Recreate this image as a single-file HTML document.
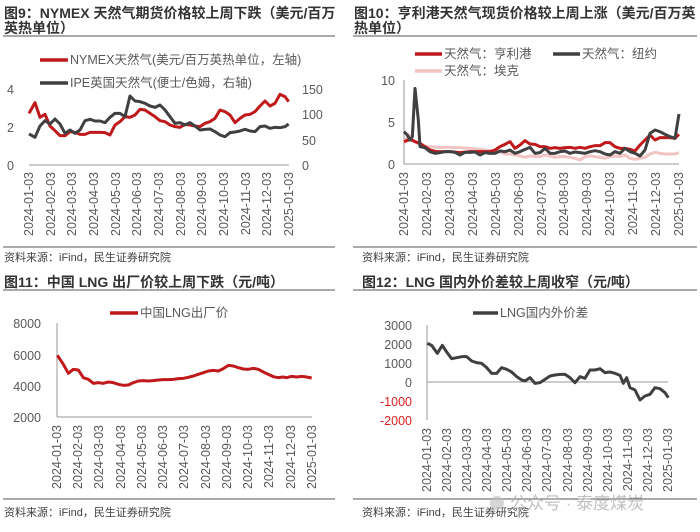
<!DOCTYPE html>
<html><head><meta charset="utf-8"><style>
html,body{margin:0;padding:0;background:#fff}
svg{display:block}
text{font-family:"Liberation Sans","Noto Sans CJK SC",sans-serif;fill:#595959}
.t{font-size:14px;font-weight:bold;fill:#333}
.lg{font-size:12.5px;fill:#595959}
.tk{font-size:12.5px}
.d{font-size:12.5px}
.s{font-size:11px;fill:#404040}
</style></head><body>
<svg width="700" height="532" viewBox="0 0 700 532" xmlns="http://www.w3.org/2000/svg">
<!-- Panel 1 -->
<text class="t" x="4" y="18">图9：NYMEX 天然气期货价格较上周下跌（美元/百万</text>
<text class="t" x="4" y="33">英热单位）</text>
<line x1="3" y1="36" x2="335" y2="36" stroke="#555" stroke-width="1"/>
<line x1="40" y1="60" x2="68" y2="60" stroke="#c0191b" stroke-width="3.5"/>
<text class="lg" x="70" y="64">NYMEX天然气(美元/百万英热单位，左轴)</text>
<line x1="40" y1="83" x2="68" y2="83" stroke="#404040" stroke-width="3.5"/>
<text class="lg" x="70" y="87">IPE英国天然气(便士/色姆，右轴)</text>
<text class="tk" x="7" y="94">4</text><text class="tk" x="7" y="132">2</text><text class="tk" x="7" y="170">0</text>
<text class="tk" x="302" y="94">150</text><text class="tk" x="302" y="119">100</text><text class="tk" x="302" y="145">50</text><text class="tk" x="302" y="170">0</text>
<line x1="29" y1="165" x2="289" y2="165" stroke="#999"/>
<g transform="scale(0.33333)" fill="none" stroke-linejoin="round">
<polyline stroke="#c0191b" stroke-width="9" points="87,340 105,308 120,352 135,343 150,378 165,392 180,407 195,407 210,395 225,397 240,403 255,403 270,397 300,397 315,398 330,405 345,375 360,365 375,350 390,352 405,345 420,328 435,330 450,340 465,350 480,362 495,365 510,375 525,380 540,382 555,373 570,375 585,378 600,380 615,370 630,365 645,355 660,330 675,335 690,345 705,368 720,355 735,345 750,343 765,335 780,318 795,303 810,318 825,310 840,283 855,290 866,305"/>
<polyline stroke="#404040" stroke-width="9" points="87,402 105,412 120,378 135,362 150,372 165,357 180,372 195,400 210,390 225,400 240,390 255,362 270,358 285,363 300,363 315,368 330,352 345,340 360,340 375,350 390,288 405,303 420,305 435,310 450,318 465,322 480,315 495,330 510,350 525,370 540,368 555,375 570,368 585,378 600,390 615,388 630,387 645,395 660,405 675,410 690,398 705,396 720,393 735,388 750,393 765,395 780,380 795,378 810,385 825,382 840,383 855,380 866,372"/>
</g>
<g class="d">
<text transform="translate(33,172) rotate(-90)" text-anchor="end">2024-01-03</text>
<text transform="translate(55,172) rotate(-90)" text-anchor="end">2024-02-03</text>
<text transform="translate(76,172) rotate(-90)" text-anchor="end">2024-03-03</text>
<text transform="translate(98,172) rotate(-90)" text-anchor="end">2024-04-03</text>
<text transform="translate(120,172) rotate(-90)" text-anchor="end">2024-05-03</text>
<text transform="translate(141,172) rotate(-90)" text-anchor="end">2024-06-03</text>
<text transform="translate(163,172) rotate(-90)" text-anchor="end">2024-07-03</text>
<text transform="translate(185,172) rotate(-90)" text-anchor="end">2024-08-03</text>
<text transform="translate(206,172) rotate(-90)" text-anchor="end">2024-09-03</text>
<text transform="translate(228,172) rotate(-90)" text-anchor="end">2024-10-03</text>
<text transform="translate(250,172) rotate(-90)" text-anchor="end">2024-11-03</text>
<text transform="translate(271,172) rotate(-90)" text-anchor="end">2024-12-03</text>
<text transform="translate(293,172) rotate(-90)" text-anchor="end">2025-01-03</text>
</g>
<line x1="3" y1="247" x2="335" y2="247" stroke="#555"/>
<text class="s" x="4" y="261">资料来源：iFind，民生证券研究院</text>

<!-- Panel 2 -->
<text class="t" x="354" y="18">图10：亨利港天然气现货价格较上周上涨（美元/百万英</text>
<text class="t" x="354" y="33">热单位）</text>
<line x1="353" y1="36" x2="697" y2="36" stroke="#555"/>
<line x1="415" y1="54" x2="442" y2="54" stroke="#c0191b" stroke-width="3.5"/>
<text class="lg" x="444" y="58">天然气：亨利港</text>
<line x1="553" y1="54" x2="580" y2="54" stroke="#404040" stroke-width="3.5"/>
<text class="lg" x="582" y="58">天然气：纽约</text>
<line x1="415" y1="71" x2="442" y2="71" stroke="#f2c4c4" stroke-width="3.5"/>
<text class="lg" x="444" y="75">天然气：埃克</text>
<text class="tk" x="395" y="85" text-anchor="end">10</text>
<text class="tk" x="395" y="127" text-anchor="end">5</text>
<text class="tk" x="395" y="169" text-anchor="end">0</text>
<line x1="404" y1="80" x2="404" y2="164" stroke="#999"/>
<line x1="404" y1="164" x2="679" y2="164" stroke="#999"/>
<g transform="translate(350,0) scale(0.33333)" fill="none" stroke-linejoin="round">
<polyline stroke="#f2c4c4" stroke-width="9" points="162,430 175,405 185,415 195,425 210,435 225,440 240,440 270,442 300,442 330,443 360,445 390,448 420,452 435,455 450,455 465,462 480,462 495,465 510,468 525,472 540,468 555,470 570,470 585,465 600,468 615,472 630,470 645,470 660,472 675,475 690,480 705,470 720,468 735,470 750,472 765,475 780,470 795,468 810,470 825,465 840,475 855,478 870,475 885,472 900,462 915,457 930,460 945,462 960,462 975,462 987,458"/>
<polyline stroke="#c0191b" stroke-width="9" points="162,425 180,418 195,425 210,430 225,440 240,450 260,455 300,455 330,458 360,455 390,455 420,455 435,450 450,440 465,433 480,425 495,445 510,435 525,422 540,432 555,433 570,440 585,440 600,445 615,443 630,445 645,443 660,442 675,445 690,442 705,445 720,440 735,437 750,437 765,428 780,428 795,440 810,445 825,445 840,448 855,453 870,435 885,420 900,405 915,420 930,413 945,413 960,413 975,415 987,403"/>
<polyline stroke="#404040" stroke-width="9" points="162,395 172,405 180,420 187,410 195,265 205,360 210,440 225,443 240,455 255,460 270,458 285,455 300,455 315,457 330,465 345,457 360,457 375,456 390,465 405,458 420,460 435,460 450,453 465,455 480,450 495,460 510,455 525,448 540,442 555,460 570,458 585,445 600,460 615,460 630,455 645,453 660,460 675,456 690,458 705,460 720,455 735,452 750,455 765,462 780,465 795,455 810,460 825,445 840,455 855,460 870,468 885,450 900,400 915,390 930,395 945,403 960,410 975,415 987,342"/>
</g>
<g class="d">
<text transform="translate(408,172) rotate(-90)" text-anchor="end">2024-01-03</text>
<text transform="translate(431,172) rotate(-90)" text-anchor="end">2024-02-03</text>
<text transform="translate(454,172) rotate(-90)" text-anchor="end">2024-03-03</text>
<text transform="translate(477,172) rotate(-90)" text-anchor="end">2024-04-03</text>
<text transform="translate(500,172) rotate(-90)" text-anchor="end">2024-05-03</text>
<text transform="translate(523,172) rotate(-90)" text-anchor="end">2024-06-03</text>
<text transform="translate(546,172) rotate(-90)" text-anchor="end">2024-07-03</text>
<text transform="translate(568,172) rotate(-90)" text-anchor="end">2024-08-03</text>
<text transform="translate(591,172) rotate(-90)" text-anchor="end">2024-09-03</text>
<text transform="translate(614,172) rotate(-90)" text-anchor="end">2024-10-03</text>
<text transform="translate(637,172) rotate(-90)" text-anchor="end">2024-11-03</text>
<text transform="translate(660,172) rotate(-90)" text-anchor="end">2024-12-03</text>
<text transform="translate(683,172) rotate(-90)" text-anchor="end">2025-01-03</text>
</g>
<line x1="353" y1="247" x2="697" y2="247" stroke="#555"/>
<text class="s" x="362" y="261">资料来源：iFind，民生证券研究院</text>

<!-- Panel 3 -->
<text class="t" x="4" y="287">图11：中国 LNG 出厂价较上周下跌（元/吨）</text>
<line x1="3" y1="290" x2="335" y2="290" stroke="#555"/>
<line x1="110" y1="313" x2="138" y2="313" stroke="#c0191b" stroke-width="3.5"/>
<text class="lg" x="140" y="317">中国LNG出厂价</text>
<text class="tk" x="41" y="328" text-anchor="end">8000</text>
<text class="tk" x="41" y="360" text-anchor="end">6000</text>
<text class="tk" x="41" y="391" text-anchor="end">4000</text>
<text class="tk" x="41" y="422" text-anchor="end">2000</text>
<line x1="57" y1="323" x2="57" y2="417" stroke="#999"/>
<line x1="57" y1="417" x2="312" y2="417" stroke="#999"/>
<g transform="translate(0,266) scale(0.33333)" fill="none" stroke-linejoin="round">
<polyline stroke="#c0191b" stroke-width="9" points="172,268 190,295 205,322 220,310 235,312 250,335 265,340 280,352 295,350 310,352 325,348 340,350 355,355 370,358 385,357 400,350 415,345 430,344 445,345 460,344 475,342 490,341 505,341 520,340 535,338 550,337 565,334 580,330 595,325 610,320 625,315 640,313 655,315 670,308 685,298 700,300 715,305 730,309 745,310 760,307 775,310 790,318 805,325 820,332 835,335 850,333 860,335 875,331 890,333 905,331 920,333 935,336"/>
</g>
<g class="d">
<text transform="translate(61,425) rotate(-90)" text-anchor="end">2024-01-03</text>
<text transform="translate(82,425) rotate(-90)" text-anchor="end">2024-02-03</text>
<text transform="translate(103,425) rotate(-90)" text-anchor="end">2024-03-03</text>
<text transform="translate(125,425) rotate(-90)" text-anchor="end">2024-04-03</text>
<text transform="translate(146,425) rotate(-90)" text-anchor="end">2024-05-03</text>
<text transform="translate(167,425) rotate(-90)" text-anchor="end">2024-06-03</text>
<text transform="translate(188,425) rotate(-90)" text-anchor="end">2024-07-03</text>
<text transform="translate(210,425) rotate(-90)" text-anchor="end">2024-08-03</text>
<text transform="translate(231,425) rotate(-90)" text-anchor="end">2024-09-03</text>
<text transform="translate(252,425) rotate(-90)" text-anchor="end">2024-10-03</text>
<text transform="translate(273,425) rotate(-90)" text-anchor="end">2024-11-03</text>
<text transform="translate(295,425) rotate(-90)" text-anchor="end">2024-12-03</text>
<text transform="translate(316,425) rotate(-90)" text-anchor="end">2025-01-03</text>
</g>
<line x1="3" y1="499" x2="335" y2="499" stroke="#555"/>
<text class="s" x="4" y="516">资料来源：iFind，民生证券研究院</text>

<!-- Panel 4 -->
<text class="t" x="362" y="287">图12：LNG 国内外价差较上周收窄（元/吨）</text>
<line x1="353" y1="290" x2="697" y2="290" stroke="#555"/>
<line x1="473" y1="313" x2="498" y2="313" stroke="#404040" stroke-width="3.5"/>
<text class="lg" x="500" y="317">LNG国内外价差</text>
<text class="tk" x="412" y="330" text-anchor="end">3000</text>
<text class="tk" x="412" y="349" text-anchor="end">2000</text>
<text class="tk" x="412" y="368" text-anchor="end">1000</text>
<text class="tk" x="412" y="387" text-anchor="end">0</text>
<text class="tk" x="412" y="406" text-anchor="end" style="fill:#e02020">-1000</text>
<text class="tk" x="412" y="425" text-anchor="end" style="fill:#e02020">-2000</text>
<line x1="427" y1="325" x2="427" y2="420" stroke="#999"/>
<line x1="427" y1="382" x2="668" y2="382" stroke="#999"/>
<g transform="translate(350,266) scale(0.33333)" fill="none" stroke-linejoin="round">
<polyline stroke="#404040" stroke-width="9" points="232,232 245,238 262,262 277,238 290,258 305,278 320,275 335,272 350,272 365,285 380,290 395,292 410,305 425,322 440,322 455,305 470,310 485,318 500,332 515,342 525,345 540,335 555,352 570,350 585,340 600,330 615,327 630,325 645,325 660,335 675,350 690,332 705,337 720,312 735,312 750,308 765,320 780,318 795,322 810,328 820,352 830,335 840,365 855,372 870,402 885,390 900,385 915,365 930,368 945,380 955,395"/>
</g>
<g class="d">
<text transform="translate(431,428) rotate(-90)" text-anchor="end">2024-01-03</text>
<text transform="translate(451,428) rotate(-90)" text-anchor="end">2024-02-03</text>
<text transform="translate(471,428) rotate(-90)" text-anchor="end">2024-03-03</text>
<text transform="translate(491,428) rotate(-90)" text-anchor="end">2024-04-03</text>
<text transform="translate(511,428) rotate(-90)" text-anchor="end">2024-05-03</text>
<text transform="translate(531,428) rotate(-90)" text-anchor="end">2024-06-03</text>
<text transform="translate(551,428) rotate(-90)" text-anchor="end">2024-07-03</text>
<text transform="translate(572,428) rotate(-90)" text-anchor="end">2024-08-03</text>
<text transform="translate(592,428) rotate(-90)" text-anchor="end">2024-09-03</text>
<text transform="translate(612,428) rotate(-90)" text-anchor="end">2024-10-03</text>
<text transform="translate(632,428) rotate(-90)" text-anchor="end">2024-11-03</text>
<text transform="translate(652,428) rotate(-90)" text-anchor="end">2024-12-03</text>
<text transform="translate(672,428) rotate(-90)" text-anchor="end">2025-01-03</text>
</g>
<line x1="353" y1="499" x2="697" y2="499" stroke="#555"/>
<text class="s" x="362" y="516">资料来源：iFind，民生证券研究院</text>
<circle cx="497" cy="503" r="7" fill="#bbb" opacity="0.6"/>
<text x="510" y="509" style="font-size:17px;fill:#b0b0b0;opacity:0.8">公众号 · 泰度煤炭</text>
</svg>
</body></html>
